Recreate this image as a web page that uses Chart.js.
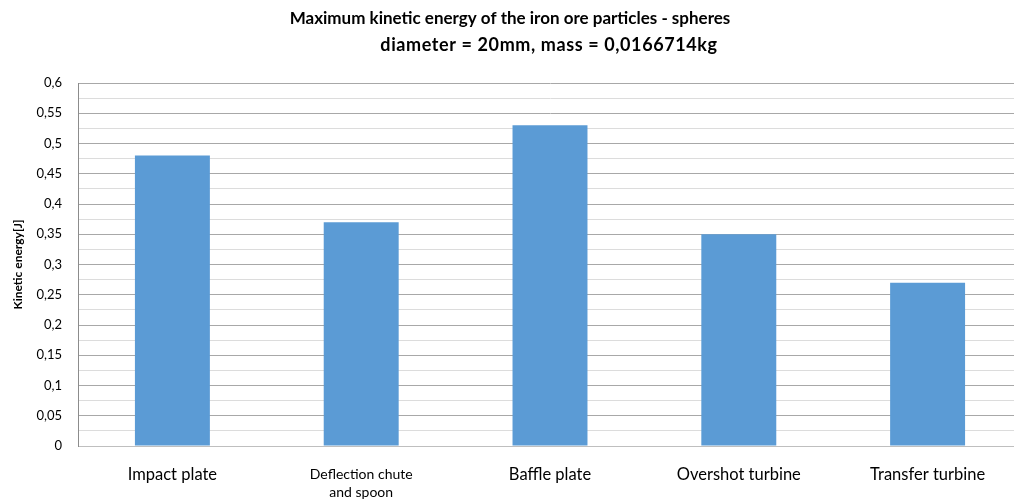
<!DOCTYPE html>
<html>
<head>
<meta charset="utf-8">
<script src="https://cdn.jsdelivr.net/npm/chart.js@4.4.1/dist/chart.umd.min.js"></script>
<style>
  html, body { margin: 0; padding: 0; background: #ffffff; overflow: hidden; }
  #wrap { width: 1014px; height: 503px; overflow: hidden; position: relative; }
  canvas { display: block; }
</style>
</head>
<body>
<div id="wrap"><canvas id="chart" width="1022" height="503"></canvas></div>
<script>
// Categories (a label given as an array is drawn on several lines)
const categories = [
  'Impact plate',
  ['Deflection chute', 'and spoon'],
  'Baffle plate',
  'Overshot turbine',
  'Transfer turbine'
];
// Maximum kinetic energy per setup, in joules
const kineticEnergy = [0.48, 0.37, 0.53, 0.35, 0.27];

const titleLines = [
  'Maximum kinetic energy of the iron ore particles - spheres',
  'diameter = 20mm, mass = 0,0166714kg'
];
const yAxisTitle = 'Kinetic energy[J]';
const yMin = 0;
const yMax = 0.6;
const yStep = 0.025;      // every other line carries a label
const barColor = '#5b9bd5';

const FONT = "Lato, 'Open Sans', 'DejaVu Sans', sans-serif";

function isLabelled(v) {
  return Math.round(v * 1000) % 50 === 0;
}
function formatTick(v) {
  return String(Math.round(v * 100) / 100).replace('.', ',');
}

// Two-line heading; the second line sits a little right of centre
const headingPlugin = {
  id: 'heading',
  afterDraw(chart) {
    const ctx = chart.ctx;
    ctx.save();
    ctx.fillStyle = '#000000';
    ctx.textAlign = 'center';
    ctx.textBaseline = 'middle';
    ctx.font = 'bold 17px ' + FONT;
    ctx.fillText(titleLines[0], 510, 19);
    ctx.font = 'bold 18px ' + FONT;
    if ('letterSpacing' in ctx) ctx.letterSpacing = '0.6px';
    ctx.fillText(titleLines[1], 549, 45);
    ctx.restore();
  }
};

new Chart(document.getElementById('chart'), {
  type: 'bar',
  data: {
    labels: categories,
    datasets: [{
      data: kineticEnergy,
      backgroundColor: barColor,
      borderWidth: 0,
      barPercentage: 1,
      categoryPercentage: 0.397
    }]
  },
  plugins: [headingPlugin],
  options: {
    responsive: false,
    animation: false,
    devicePixelRatio: 1,
    layout: { padding: { left: 0, right: 0, top: 83, bottom: 0 } },
    plugins: {
      legend: { display: false },
      tooltip: { enabled: false },
      title: { display: false }
    },
    scales: {
      x: {
        grid: { display: false, drawTicks: false },
        border: { display: true, color: '#bfbfbf', width: 1 },
        ticks: {
          color: '#000000',
          padding: 19,
          maxRotation: 0,
          autoSkip: false,
          font: (ctx) => Array.isArray(categories[ctx.index])
            ? { family: FONT, size: 14, lineHeight: 1.3 }
            : { family: FONT, size: 16.5, lineHeight: 1.2 }
        },
        afterFit: (scale) => { scale.height = 57; }
      },
      y: {
        min: yMin,
        max: yMax,
        grid: {
          drawTicks: false,
          color: (ctx) => (ctx.tick && isLabelled(ctx.tick.value)) ? '#a8a8a8' : '#dcdcdc',
          lineWidth: 1
        },
        border: { display: true, color: '#8c8c8c', width: 1 },
        ticks: {
          stepSize: yStep,
          color: '#000000',
          padding: 16,
          autoSkip: false,
          font: { family: FONT, size: 13 },
          callback: (v) => isLabelled(v) ? formatTick(v) : ''
        },
        title: {
          display: true,
          text: yAxisTitle,
          color: '#000000',
          font: { family: FONT, size: 12, weight: 'bold', lineHeight: 1.2 },
          padding: { top: 11, bottom: 0 }
        },
        afterFit: (scale) => { scale.width = 78; }
      }
    }
  }
});
</script>
</body>
</html>
